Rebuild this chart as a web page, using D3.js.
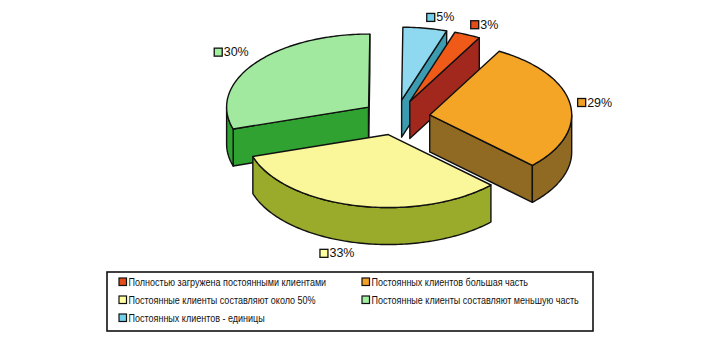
<!DOCTYPE html>
<html><head><meta charset="utf-8">
<script src="https://cdn.jsdelivr.net/npm/d3@7"></script>
<style>html,body{margin:0;padding:0;background:#fff}svg{display:block}</style>
</head><body>
<script>
// ---- data ----
const categories = [
  "Полностью загружена постоянными клиентами",
  "Постоянных клиентов большая часть",
  "Постоянные клиенты составляют около 50%",
  "Постоянные клиенты составляют меньшую часть",
  "Постоянных клиентов - единицы"
];
const values = [3, 29, 33, 30, 5];
const valueLabels = ["3%", "29%", "33%", "30%", "5%"];

// ---- styles ----
const topColors  = ["#f05a18", "#f5a526", "#faf79a", "#a2e9a0", "#8ed8f0"];
const sideColors = ["#a2281e", "#906a22", "#9aaa2a", "#2fa232", "#3b9bb0"];
const keyColors  = ["#e44c1a", "#f0a024", "#ffffa0", "#a0f0a0", "#72d0ea"];

const W = 706, H = 361;
const cx = 396, cy = 117.5, rx = 142, ry = 73, depth = 37, explode = 0.24;
const firstAngle = 18.5 * Math.PI / 180;

const svg = d3.select("body").append("svg").attr("width", W).attr("height", H);

const pie = d3.pie().sort(null).value(d => d)
  .startAngle(firstAngle).endAngle(firstAngle + 2 * Math.PI);
const arcs = pie(values);
const topColor = d3.scaleOrdinal().domain(d3.range(values.length)).range(topColors);
const sideColor = d3.scaleOrdinal().domain(d3.range(values.length)).range(sideColors);

function proj(ox, oy, a, r, h) {
  return [ox + r * rx * Math.sin(a), oy - r * ry * Math.cos(a) + h];
}
function arcPts(ox, oy, a0, a1, h) {
  const n = Math.max(2, Math.ceil(Math.abs(a1 - a0) / 0.02));
  const pts = [];
  for (let k = 0; k <= n; k++) pts.push(proj(ox, oy, a0 + (a1 - a0) * k / n, 1, h));
  return pts;
}
const line = d3.line();

const slices = arcs.map((d, i) => {
  const m = (d.startAngle + d.endAngle) / 2;
  const ox = cx + explode * rx * Math.sin(m);
  const oy = cy - explode * ry * Math.cos(m);
  return {d, i, m, ox, oy};
});
// draw back slices first
const order = slices.slice().sort((a, b) => Math.cos(b.m) - Math.cos(a.m));

const g = svg.append("g")
  .attr("stroke", "#111").attr("stroke-width", 1.4).attr("stroke-linejoin", "round");

order.forEach(s => {
  const {d, i, ox, oy} = s;
  const a0 = d.startAngle, a1 = d.endAngle;
  const sg = g.append("g");
  if (Math.sin(a0) < 0) {
    const p = proj(ox, oy, a0, 1, 0), q = proj(ox, oy, a0, 1, depth);
    sg.append("path").attr("fill", sideColor(i))
      .attr("d", line([[ox, oy], p, q, [ox, oy + depth]]) + "Z");
  }
  if (Math.sin(a1) > 0) {
    const p = proj(ox, oy, a1, 1, 0), q = proj(ox, oy, a1, 1, depth);
    sg.append("path").attr("fill", sideColor(i))
      .attr("d", line([[ox, oy], p, q, [ox, oy + depth]]) + "Z");
  }
  [0, 1].forEach(k => {
    const f0 = Math.PI / 2 + 2 * Math.PI * k, f1 = 3 * Math.PI / 2 + 2 * Math.PI * k;
    const t0 = Math.max(a0, f0), t1 = Math.min(a1, f1);
    if (t1 > t0) {
      const topArc = arcPts(ox, oy, t0, t1, 0);
      const botArc = arcPts(ox, oy, t1, t0, depth);
      sg.append("path").attr("fill", sideColor(i))
        .attr("d", line(topArc.concat(botArc)) + "Z");
    }
  });
  const pts = [[ox, oy]].concat(arcPts(ox, oy, a0, a1, 0));
  sg.append("path").attr("fill", topColor(i)).attr("d", line(pts) + "Z");
});

// data labels
const labelFont = "'Liberation Sans', Arial, sans-serif";
slices.forEach(s => {
  const {i, m, ox, oy} = s;
  const sx = Math.sin(m), cs = Math.cos(m);
  const lx = ox + rx * 1.05 * sx;
  const ly = oy - ry * 1.15 * cs + (cs < 0 ? depth : 0) - (sx < 0 && cs > 0 ? 5 : 0);
  const lg = svg.append("g");
  const t = lg.append("text").attr("font-family", labelFont).attr("font-size", 12.5)
    .attr("fill", "#111").attr("dominant-baseline", "central")
    .attr("x", 10).attr("y", 0).text(valueLabels[i]);
  const tw = t.node().getComputedTextLength();
  lg.insert("rect", "text").attr("x", 0.5).attr("y", -4).attr("width", 8).attr("height", 8)
    .attr("fill", keyColors[i]).attr("stroke", "#111").attr("stroke-width", 1.3);
  const total = 10 + tw;
  const left = sx > 0 ? lx : lx - total;
  lg.attr("transform", `translate(${left},${ly})`);
});

// legend
const legend = svg.append("g");
legend.append("rect").attr("x", 107).attr("y", 272).attr("width", 486).attr("height", 59)
  .attr("fill", "#fff").attr("stroke", "#111").attr("stroke-width", 1.6);
const colX = [119, 362], rowY = [282, 300, 318];
categories.forEach((c, i) => {
  const x = colX[i % 2], y = rowY[Math.floor(i / 2)];
  legend.append("rect").attr("x", x).attr("y", y - 4).attr("width", 7.5).attr("height", 7.5)
    .attr("fill", keyColors[i]).attr("stroke", "#111").attr("stroke-width", 1.2);
  legend.append("text").attr("transform", `translate(${x + 9.5},${y}) scale(0.82,1)`)
    .attr("dominant-baseline", "central")
    .attr("font-family", labelFont).attr("font-size", 11).attr("fill", "#111").text(c);
});
</script>
</body></html>
